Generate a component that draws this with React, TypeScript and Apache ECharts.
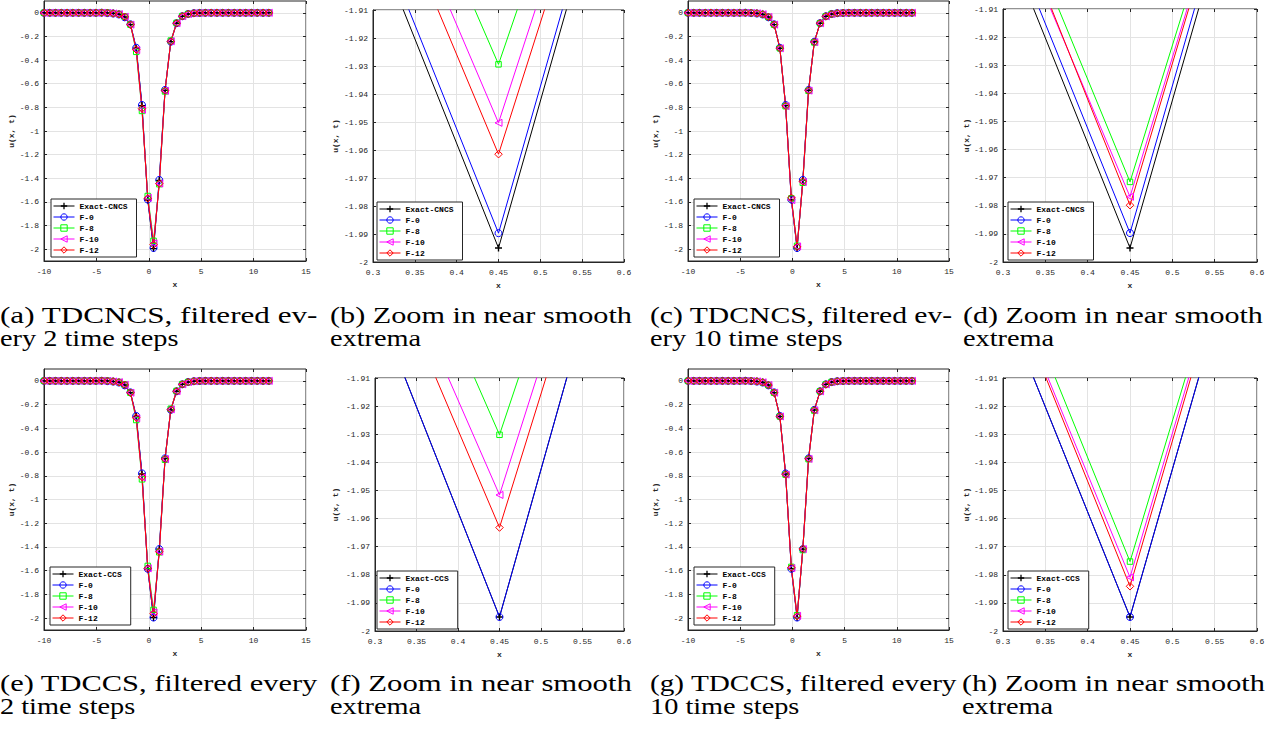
import React, { useEffect, useRef } from 'react';
import * as echarts from 'echarts';

// ---------------- DATA ----------------
const xValues = [-10, -9.45, -8.9, -8.35, -7.8, -7.25, -6.7, -6.15, -5.6, -5.05,
  -4.5, -3.95, -3.4, -2.85, -2.3, -1.75, -1.2, -0.65, -0.1, 0.45,
  1.0, 1.55, 2.1, 2.65, 3.2, 3.75, 4.3, 4.85, 5.4, 5.95,
  6.5, 7.05, 7.6, 8.15, 8.7, 9.25, 9.8, 10.35, 10.9, 11.45];

// TDCNCS
const exactCNCS = [0, 0, 0, 0, 0, 0, 0, 0, 0, 0,
  0, -0.001, -0.004, -0.012, -0.035, -0.1, -0.3, -0.785, -1.584, -1.995,
  -1.418, -0.655, -0.245, -0.088, -0.03, -0.01, -0.003, -0.001, 0, 0,
  0, 0, 0, 0, 0, 0, 0, 0, 0, 0];
const f0CNCS = [0, 0, 0, 0, 0, 0, 0, 0, 0, 0,
  0.001, -0.002, -0.006, -0.014, -0.038, -0.097, -0.296, -0.78, -1.58, -1.9897,
  -1.414, -0.653, -0.244, -0.088, -0.029, -0.01, -0.003, -0.001, 0, 0,
  0, 0, 0, 0, 0, 0, 0, 0, 0, 0];
// filtered every 2 time steps
const f8CNCS2 = [0, 0, 0, 0, 0, 0, 0, 0, 0, 0,
  0.002, 0.001, -0.004, -0.01, -0.03, -0.1, -0.33, -0.83, -1.55, -1.9294,
  -1.45, -0.665, -0.235, -0.085, -0.028, -0.01, -0.003, -0.001, 0, 0,
  0, 0, 0, 0, 0, 0, 0, 0, 0, 0];
const f10CNCS2 = [0, 0, 0, 0, 0, 0, 0, 0, 0, 0,
  0.001, 0, -0.005, -0.011, -0.033, -0.1, -0.315, -0.82, -1.565, -1.9503,
  -1.445, -0.66, -0.24, -0.087, -0.029, -0.01, -0.003, -0.001, 0, 0,
  0, 0, 0, 0, 0, 0, 0, 0, 0, 0];
const f12CNCS2 = [0, 0, 0, 0, 0, 0, 0, 0, 0, 0,
  0.001, -0.001, -0.005, -0.012, -0.034, -0.1, -0.31, -0.81, -1.57, -1.9615,
  -1.445, -0.658, -0.243, -0.088, -0.029, -0.01, -0.003, -0.001, 0, 0,
  0, 0, 0, 0, 0, 0, 0, 0, 0, 0];
// filtered every 10 time steps
const f8CNCS10 = [0, 0, 0, 0, 0, 0, 0, 0, 0, 0,
  0, -0.001, -0.004, -0.012, -0.035, -0.1, -0.3, -0.79, -1.57, -1.9715,
  -1.438, -0.66, -0.25, -0.088, -0.03, -0.01, -0.003, -0.001, 0, 0,
  0, 0, 0, 0, 0, 0, 0, 0, 0, 0];
const f10CNCS10 = [0, 0, 0, 0, 0, 0, 0, 0, 0, 0,
  0, -0.001, -0.004, -0.012, -0.035, -0.1, -0.3, -0.79, -1.585, -1.9768,
  -1.432, -0.658, -0.248, -0.088, -0.03, -0.01, -0.003, -0.001, 0, 0,
  0, 0, 0, 0, 0, 0, 0, 0, 0, 0];
const f12CNCS10 = [0, 0, 0, 0, 0, 0, 0, 0, 0, 0,
  0, -0.001, -0.004, -0.012, -0.035, -0.1, -0.3, -0.788, -1.565, -1.9798,
  -1.426, -0.657, -0.247, -0.088, -0.03, -0.01, -0.003, -0.001, 0, 0,
  0, 0, 0, 0, 0, 0, 0, 0, 0, 0];

// TDCCS
const exactCCS = [0, 0, 0, 0, 0, 0, 0, 0, 0, 0,
  0, -0.001, -0.004, -0.012, -0.035, -0.1, -0.3, -0.785, -1.584, -1.995,
  -1.418, -0.655, -0.245, -0.088, -0.03, -0.01, -0.003, -0.001, 0, 0,
  0, 0, 0, 0, 0, 0, 0, 0, 0, 0];
const f0CCS = [0, 0, 0, 0, 0, 0, 0, 0, 0, 0,
  0.001, -0.002, -0.006, -0.014, -0.038, -0.097, -0.296, -0.78, -1.584, -1.995,
  -1.418, -0.653, -0.244, -0.088, -0.029, -0.01, -0.003, -0.001, 0, 0,
  0, 0, 0, 0, 0, 0, 0, 0, 0, 0];
const f8CCS2 = [0, 0, 0, 0, 0, 0, 0, 0, 0, 0,
  0.002, 0.001, -0.004, -0.01, -0.03, -0.1, -0.33, -0.83, -1.56, -1.9302,
  -1.445, -0.665, -0.235, -0.085, -0.028, -0.01, -0.003, -0.001, 0, 0,
  0, 0, 0, 0, 0, 0, 0, 0, 0, 0];
const f10CCS2 = [0, 0, 0, 0, 0, 0, 0, 0, 0, 0,
  0.001, 0, -0.005, -0.011, -0.033, -0.1, -0.315, -0.815, -1.58, -1.9516,
  -1.44, -0.66, -0.24, -0.087, -0.029, -0.01, -0.003, -0.001, 0, 0,
  0, 0, 0, 0, 0, 0, 0, 0, 0, 0];
const f12CCS2 = [0, 0, 0, 0, 0, 0, 0, 0, 0, 0,
  0.001, -0.001, -0.005, -0.012, -0.034, -0.1, -0.31, -0.81, -1.581, -1.9632,
  -1.44, -0.658, -0.243, -0.088, -0.029, -0.01, -0.003, -0.001, 0, 0,
  0, 0, 0, 0, 0, 0, 0, 0, 0, 0];
const f8CCS10 = [0, 0, 0, 0, 0, 0, 0, 0, 0, 0,
  0, -0.001, -0.004, -0.012, -0.035, -0.1, -0.3, -0.79, -1.568, -1.9753,
  -1.426, -0.66, -0.25, -0.088, -0.03, -0.01, -0.003, -0.001, 0, 0,
  0, 0, 0, 0, 0, 0, 0, 0, 0, 0];
const f10CCS10 = [0, 0, 0, 0, 0, 0, 0, 0, 0, 0,
  0, -0.001, -0.004, -0.012, -0.035, -0.1, -0.3, -0.79, -1.578, -1.9809,
  -1.418, -0.658, -0.248, -0.088, -0.03, -0.01, -0.003, -0.001, 0, 0,
  0, 0, 0, 0, 0, 0, 0, 0, 0, 0];
const f12CCS10 = [0, 0, 0, 0, 0, 0, 0, 0, 0, 0,
  0, -0.001, -0.004, -0.012, -0.035, -0.1, -0.3, -0.788, -1.573, -1.9841,
  -1.416, -0.657, -0.247, -0.088, -0.03, -0.01, -0.003, -0.001, 0, 0,
  0, 0, 0, 0, 0, 0, 0, 0, 0, 0];

const seriesLabels = ['F-0', 'F-8', 'F-10', 'F-12'];
const mainYTicks = [-2, -1.8, -1.6, -1.4, -1.2, -1, -0.8, -0.6, -0.4, -0.2, 0];
const captions = [
  ['(a) TDCNCS, filtered ev-', 'ery 2 time steps'],
  ['(b) Zoom in near smooth', 'extrema'],
  ['(c) TDCNCS, filtered ev-', 'ery 10 time steps'],
  ['(d) Zoom in near smooth', 'extrema'],
  ['(e) TDCCS, filtered every', '2 time steps'],
  ['(f) Zoom in near smooth', 'extrema'],
  ['(g) TDCCS, filtered every', '10 time steps'],
  ['(h) Zoom in near smooth', 'extrema'],
];

// ---------------- LAYOUT / STYLE ----------------
const PLUS = 'path://M4,0H6V4H10V6H6V10H4V6H0V4H4Z';
const HOLLOW = 'rgba(0,0,0,0)';
const markStyles = [
  { color: '#000000', symbol: PLUS, size: 7, rotate: 0, fill: '#000000', bw: 0 },
  { color: '#0000ff', symbol: 'circle', size: 7, rotate: 0, fill: HOLLOW, bw: 1 },
  { color: '#00ff00', symbol: 'rect', size: 5.5, rotate: 0, fill: HOLLOW, bw: 1 },
  { color: '#ff00ff', symbol: 'triangle', size: 7, rotate: 90, fill: HOLLOW, bw: 1 },
  { color: '#ff0000', symbol: 'diamond', size: 7.5, rotate: 0, fill: HOLLOW, bw: 1 },
];

const panels = [
  { grid: { left: 44, top: 1, width: 262, height: 260 }, zoom: false, scheme: 'CNCS',
    sets: [exactCNCS, f0CNCS, f8CNCS2, f10CNCS2, f12CNCS2], legend: { left: 51, top: 199 }, yGap: 27 },
  { grid: { left: 373, top: 10, width: 251, height: 252 }, zoom: true, scheme: 'CNCS',
    sets: [exactCNCS, f0CNCS, f8CNCS2, f10CNCS2, f12CNCS2], legend: { left: 377, top: 202 }, yGap: 34 },
  { grid: { left: 688, top: 1, width: 261, height: 260 }, zoom: false, scheme: 'CNCS',
    sets: [exactCNCS, f0CNCS, f8CNCS10, f10CNCS10, f12CNCS10], legend: { left: 694, top: 199 }, yGap: 27 },
  { grid: { left: 1003, top: 9, width: 254, height: 253 }, zoom: true, scheme: 'CNCS',
    sets: [exactCNCS, f0CNCS, f8CNCS10, f10CNCS10, f12CNCS10], legend: { left: 1008, top: 202 }, yGap: 32 },
  { grid: { left: 44, top: 369, width: 262, height: 261 }, zoom: false, scheme: 'CCS',
    sets: [exactCCS, f0CCS, f8CCS2, f10CCS2, f12CCS2], legend: { left: 50, top: 567 }, yGap: 27 },
  { grid: { left: 375, top: 378, width: 249, height: 253 }, zoom: true, scheme: 'CCS',
    sets: [exactCCS, f0CCS, f8CCS2, f10CCS2, f12CCS2], legend: { left: 377, top: 571 }, yGap: 36 },
  { grid: { left: 688, top: 369, width: 261, height: 261 }, zoom: false, scheme: 'CCS',
    sets: [exactCCS, f0CCS, f8CCS10, f10CCS10, f12CCS10], legend: { left: 694, top: 567 }, yGap: 27 },
  { grid: { left: 1003, top: 378, width: 254, height: 253 }, zoom: true, scheme: 'CCS',
    sets: [exactCCS, f0CCS, f8CCS10, f10CCS10, f12CCS10], legend: { left: 1008, top: 571 }, yGap: 32 },
];

// caption placement: [x, baseline line1, baseline line2, width of justified line 1]
const captionPos = [
  [0, 323, 346, 318], [330, 323, 346, 302], [650, 323, 346, 303], [963, 323, 346, 300],
  [0, 691, 714, 318], [330, 691, 714, 302], [650, 691, 714, 307], [962, 691, 714, 303],
];

const MONO = 'Liberation Mono';
const AX = '#262626';
const GRIDC = '#e3e3e3';
const CAP_FAMILY = 'Liberation Serif';
const CAP_SIZE = 24;
const NATURAL_SCALE = 1.18;

function measure(text: string): number {
  const ctx = document.createElement('canvas').getContext('2d');
  if (!ctx) return text.length * 10;
  ctx.font = `${CAP_SIZE}px "${CAP_FAMILY}"`;
  return ctx.measureText(text).width;
}

function buildOption() {
  const grid: any[] = [];
  const xAxis: any[] = [];
  const yAxis: any[] = [];
  const series: any[] = [];
  const legend: any[] = [];
  const graphic: any[] = [];

  panels.forEach((p, i) => {
    grid.push({ ...p.grid, show: true, borderColor: AX, borderWidth: 1, backgroundColor: '#fff', containLabel: false });
    const xr = p.zoom ? { min: 0.3, max: 0.6, interval: 0.05 } : { min: -10, max: 15, interval: 5 };
    const tickStyle = { show: true, inside: true, length: 3, lineStyle: { color: AX, width: 1 } };
    xAxis.push({
      gridIndex: i, type: 'value', ...xr, position: 'bottom',
      axisLine: { show: true, onZero: false, lineStyle: { color: AX, width: 1 } },
      axisTick: tickStyle,
      axisLabel: { fontFamily: MONO, fontSize: 8, color: AX, margin: 6 },
      splitLine: { show: true, lineStyle: { color: GRIDC, width: 1 } },
      name: 'x', nameLocation: 'middle', nameGap: 19,
      nameTextStyle: { fontFamily: MONO, fontSize: 8, fontWeight: 'bold', color: AX },
    });
    xAxis.push({
      gridIndex: i, type: 'value', ...xr, position: 'top',
      axisLine: { show: false, onZero: false }, axisTick: tickStyle,
      axisLabel: { show: false }, splitLine: { show: false },
    });
    const yLabel = { fontFamily: MONO, fontSize: 8, color: AX, margin: 5 };
    const yr: any = p.zoom
      ? { min: -2, max: -1.91, interval: 0.01, axisTick: tickStyle, axisLabel: yLabel }
      : { min: -2.1, max: 0.1,
          axisTick: { ...tickStyle, customValues: mainYTicks },
          axisLabel: { ...yLabel, customValues: mainYTicks } };
    yAxis.push({
      gridIndex: i, type: 'value', position: 'left', ...yr,
      axisLine: { show: true, onZero: false, lineStyle: { color: AX, width: 1 } },
      splitLine: { show: true, lineStyle: { color: GRIDC, width: 1 } },
      name: 'u(x, t)', nameLocation: 'middle', nameGap: p.yGap,
      nameTextStyle: { fontFamily: MONO, fontSize: 8, fontWeight: 'bold', color: AX },
    });
    yAxis.push({
      gridIndex: i, type: 'value', position: 'right', min: yr.min, max: yr.max, interval: yr.interval,
      axisLine: { show: false, onZero: false },
      axisTick: p.zoom ? tickStyle : { ...tickStyle, customValues: mainYTicks },
      axisLabel: { show: false }, splitLine: { show: false },
    });

    const names = ['Exact-' + p.scheme, ...seriesLabels];
    p.sets.forEach((vals, k) => {
      const m = markStyles[k];
      series.push({
        type: 'line', name: names[k], xAxisIndex: 2 * i, yAxisIndex: 2 * i,
        data: xValues.map((x, j) => [x, vals[j]]),
        symbol: m.symbol, symbolSize: m.size, symbolRotate: m.rotate, showAllSymbol: true,
        lineStyle: { color: m.color, width: 1 },
        itemStyle: { color: m.fill, borderColor: m.color, borderWidth: m.bw },
        emphasis: { disabled: true }, clip: true, silent: true,
      });
    });
    legend.push({
      orient: 'vertical', left: p.legend.left, top: p.legend.top,
      data: names.map((n, k) => ({
        name: n,
        itemStyle: { color: markStyles[k].fill, borderColor: markStyles[k].color, borderWidth: markStyles[k].bw },
        lineStyle: { color: markStyles[k].color, width: 1 },
      })),
      itemWidth: 21, itemHeight: 8, itemGap: 1,
      padding: [2, 9, 2, 2], borderColor: AX, borderWidth: 1, backgroundColor: '#fff',
      selectedMode: false, z: 10,
      textStyle: { fontFamily: MONO, fontSize: 8, fontWeight: 'bold', color: '#000', lineHeight: 10 },
    });

    // captions
    const [cx, b1, b2, w1] = captionPos[i];
    const [l1, l2] = captions[i];
    const s1 = w1 / measure(l1);
    graphic.push({ type: 'text', x: cx, y: b1 - 8, scaleX: s1,
      style: { text: l1, fontFamily: CAP_FAMILY, fontSize: CAP_SIZE, fill: '#000', textAlign: 'left', textVerticalAlign: 'middle' } });
    graphic.push({ type: 'text', x: cx, y: b2 - 8, scaleX: NATURAL_SCALE,
      style: { text: l2, fontFamily: CAP_FAMILY, fontSize: CAP_SIZE, fill: '#000', textAlign: 'left', textVerticalAlign: 'middle' } });
  });

  return { animation: false, backgroundColor: '#fff', grid, xAxis, yAxis, series, legend, graphic, tooltip: { show: false } };
}

export default function App() {
  const ref = useRef<HTMLDivElement>(null);
  useEffect(() => {
    if (!ref.current) return;
    const chart = echarts.init(ref.current, undefined, { renderer: 'svg' });
    chart.setOption(buildOption() as any);
    return () => chart.dispose();
  }, []);
  return (
    <div ref={ref} style={{ position: 'absolute', left: 0, top: 0, width: 1277, height: 733, background: '#fff' }} />
  );
}
